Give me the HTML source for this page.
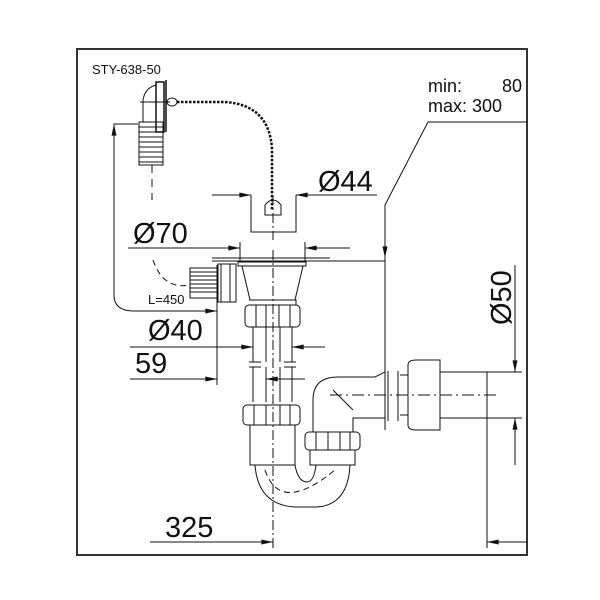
<!DOCTYPE html>
<html><head><meta charset="utf-8"><style>
body{margin:0;background:#fff}
svg{display:block}
text{font-family:"Liberation Sans",sans-serif;fill:#111}
</style></head><body>
<svg width="600" height="600" viewBox="0 0 600 600" xmlns="http://www.w3.org/2000/svg">
<defs>
<marker id="b" viewBox="0 0 14 6" refX="14" refY="3" markerWidth="14" markerHeight="5" markerUnits="userSpaceOnUse" orient="auto"><path d="M0,0 L14,3 L0,6 z" fill="#111"/></marker>
</defs>
<rect x="77" y="49" width="450" height="506" fill="none" stroke="#333" stroke-width="2"/>
<g stroke="#111" stroke-width="1" fill="none">
<path d="M527,122 H428 L385,205 V430"/>
<line x1="385" y1="205" x2="385" y2="258" marker-end="url(#b)"/>
<line x1="212" y1="261" x2="385" y2="261"/>
<line x1="212" y1="258" x2="330" y2="258"/>
<line x1="212" y1="195" x2="251" y2="195" marker-end="url(#b)"/>
<line x1="377" y1="195" x2="296" y2="195" marker-end="url(#b)"/>
<path d="M251,195 V232 H296 V195"/>
<path d="M265,205 q8,-10 16,0 v10 h-16z"/>
<line x1="273" y1="195" x2="273" y2="240" stroke-dasharray="10,3,2,3"/>
<line x1="128" y1="248" x2="240" y2="248" marker-end="url(#b)"/>
<line x1="350" y1="248" x2="305" y2="248" marker-end="url(#b)"/>
<line x1="240" y1="242" x2="240" y2="262"/><line x1="305" y1="242" x2="305" y2="262"/>
<path d="M238,262 H306 V266 H238z"/>
<path d="M242,266 L250,300 H295 L303,266"/>
<path d="M218,264 h18 v38 h-18z M221,264 v38 M230,264 v38"/>
<g><rect x="190" y="268" width="28" height="30"/>
<path d="M190,272 h28 M190,276 h28 M190,280 h28 M190,284 h28 M190,288 h28 M190,292 h28"/></g>
<path d="M153,260 q10,30 37,25" stroke-dasharray="6,4"/>
<rect x="245" y="305" width="55" height="22" rx="4"/>
<path d="M256,305v22 M266,305v22 M279,305v22 M290,305v22 M249,300h47v5"/>
<path d="M253,327 V362 M292,327 V362 M266,327 V362 M280,327 V362"/>
<path d="M249,362h12 M284,362h12 M249,367h12 M284,367h12"/>
<path d="M253,367 V402 M292,367 V402 M266,367 V402 M280,367 V402"/>
<line x1="273" y1="250" x2="273" y2="548" stroke-dasharray="10,3,2,3"/>
<line x1="130" y1="347" x2="253" y2="347" marker-end="url(#b)"/>
<line x1="325" y1="347" x2="292" y2="347" marker-end="url(#b)"/>
<line x1="130" y1="379" x2="217" y2="379" marker-end="url(#b)"/>
<line x1="305" y1="379" x2="266" y2="379" marker-end="url(#b)"/>
<line x1="217" y1="265" x2="217" y2="385"/>
<path d="M138,124 H114 V295 q0,16 20,16 H217" marker-end="url(#b)"/>
<line x1="114" y1="200" x2="114" y2="124" marker-end="url(#b)"/>
<rect x="243" y="405" width="57" height="20" rx="4"/>
<path d="M254,405v20 M266,405v20 M280,405v20 M290,405v20"/>
<path d="M250,425 V465 H295 V425"/>
<path d="M255,465 Q258,505 295,507 H317 Q348,505 350,465"/>
<path d="M295,465 Q298,482 307,482 Q314,482 316,465"/>
<path d="M265,470 q15,45 70,0" stroke-dasharray="6,4"/>
<rect x="305" y="432" width="55" height="18" rx="4"/>
<path d="M316,432v18 M328,432v18 M340,432v18 M350,432v18"/>
<path d="M310,450 V465 H355 V450"/>
<path d="M313,432 V400 Q313,377 338,377 H375 L385,372 V418 L375,418 H353 V432"/>
<path d="M333,390 L353,410"/>
<path d="M388,371v50 M398,371v50"/>
<path d="M400,375 H408 M400,415H408"/>
<path d="M408,365 q0,-5 8,-5 H440 V430 H416 q-8,0 -8,-5z"/>
<path d="M440,372 H522 M440,418 H522"/>
<line x1="330" y1="395" x2="500" y2="395" stroke-dasharray="12,4,2,4"/>
<line x1="515" y1="265" x2="515" y2="345"/>
<line x1="515" y1="345" x2="515" y2="372" marker-end="url(#b)"/>
<line x1="515" y1="465" x2="515" y2="418" marker-end="url(#b)"/>
<line x1="150" y1="542" x2="273" y2="542" marker-end="url(#b)"/>
<line x1="527" y1="542" x2="487" y2="542" marker-end="url(#b)"/>
<line x1="487" y1="372" x2="487" y2="548"/>
<path d="M156,82 h8 v50 h-8z M166,80v52" stroke-width="1.5"/>
<path d="M143,122 V100 q2,-12 13,-15"/>
<rect x="139" y="122" width="24" height="43"/>
<path d="M139,127h24 M139,132h24 M139,137h24 M139,142h24 M139,147h24 M139,152h24 M139,157h24 M139,162h24"/>
<line x1="152" y1="165" x2="152" y2="200" stroke-dasharray="8,6"/>
<line x1="140" y1="102" x2="170" y2="102"/>
<ellipse cx="172" cy="102" rx="5" ry="4"/>
<path d="M177,102 H225 Q270,105 272,150 V210" stroke-width="2.5" stroke-dasharray="2.5,1.5"/>
</g>
<text x="92" y="74" font-size="13">STY-638-50</text>
<text x="428" y="92" font-size="18">min:</text>
<text x="522" y="92" font-size="18" text-anchor="end">80</text>
<text x="428" y="112" font-size="18">max: 300</text>
<text x="318" y="191" font-size="29">Ø44</text>
<text x="133" y="243" font-size="29">Ø70</text>
<text x="148" y="304" font-size="13">L=450</text>
<text x="148" y="340" font-size="29">Ø40</text>
<text x="135" y="373" font-size="29">59</text>
<text x="165" y="537" font-size="29">325</text>
<text transform="translate(511,325) rotate(-90)" font-size="29">Ø50</text>
</svg>
</body></html>
